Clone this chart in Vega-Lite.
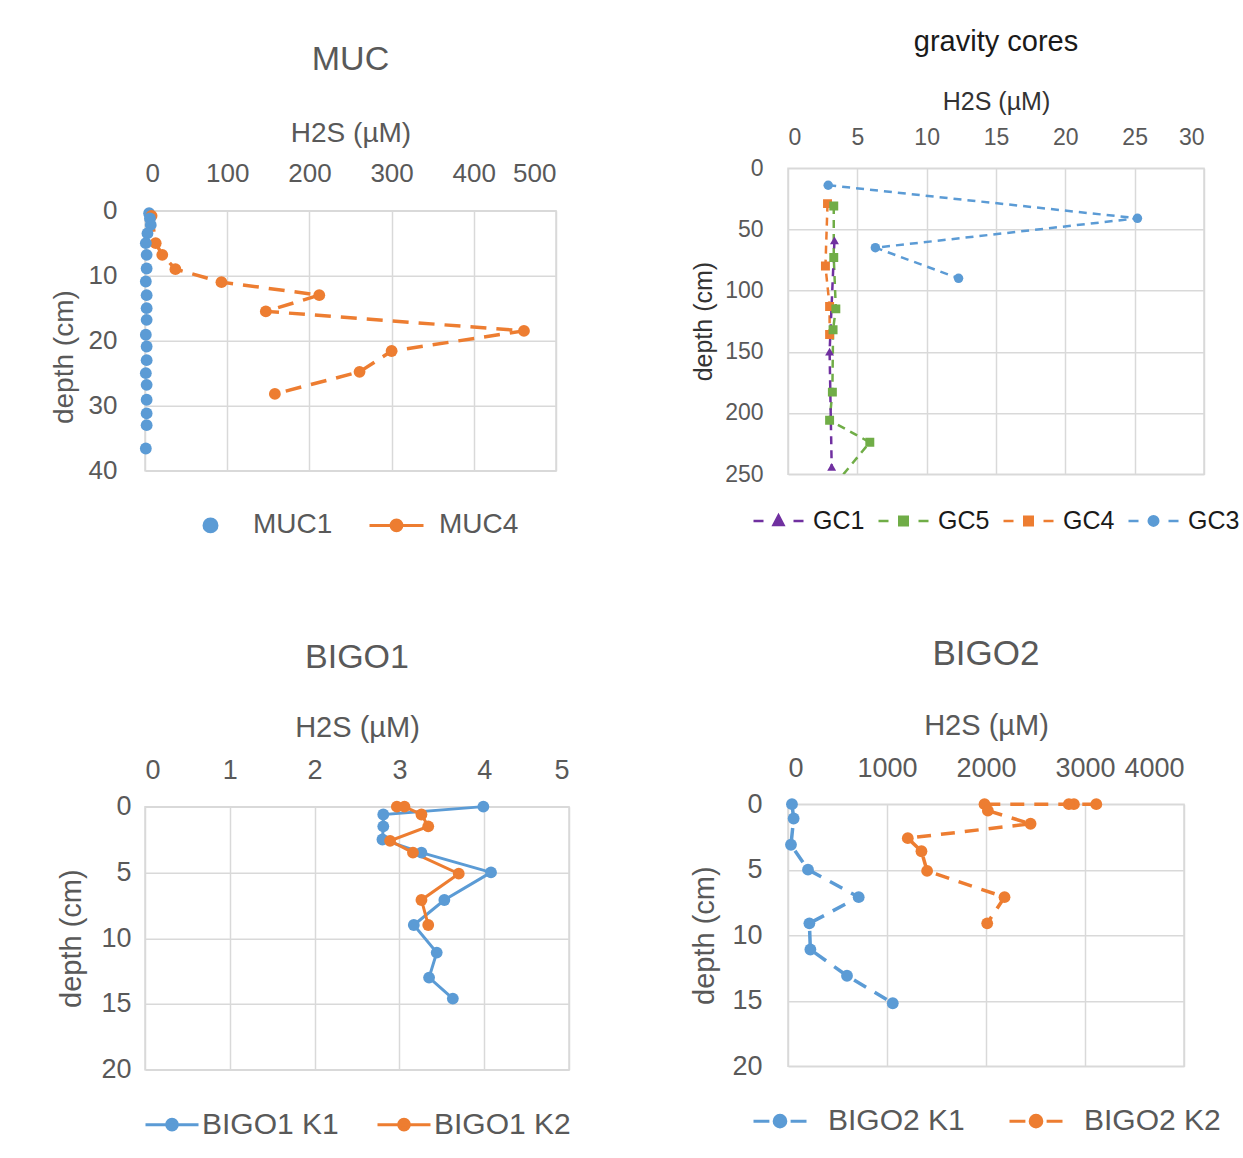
{
  "$schema": "https://vega.github.io/schema/vega-lite/v6.json",
  "background": "white",
  "padding": {"left": 49, "top": 27, "right": 5, "bottom": 5},
  "datasets": {
    "pts": [
      {"panel": "MUC", "series": "MUC1", "h2s": 5, "depth": 0.4, "seq": 1},
      {"panel": "MUC", "series": "MUC1", "h2s": 6, "depth": 1.2, "seq": 2},
      {"panel": "MUC", "series": "MUC1", "h2s": 7, "depth": 2.2, "seq": 3},
      {"panel": "MUC", "series": "MUC1", "h2s": 3, "depth": 3.5, "seq": 4},
      {"panel": "MUC", "series": "MUC1", "h2s": 1, "depth": 5.0, "seq": 5},
      {"panel": "MUC", "series": "MUC1", "h2s": 2, "depth": 6.8, "seq": 6},
      {"panel": "MUC", "series": "MUC1", "h2s": 2, "depth": 8.9, "seq": 7},
      {"panel": "MUC", "series": "MUC1", "h2s": 1, "depth": 10.9, "seq": 8},
      {"panel": "MUC", "series": "MUC1", "h2s": 2, "depth": 13.0, "seq": 9},
      {"panel": "MUC", "series": "MUC1", "h2s": 2, "depth": 15.0, "seq": 10},
      {"panel": "MUC", "series": "MUC1", "h2s": 2, "depth": 16.8, "seq": 11},
      {"panel": "MUC", "series": "MUC1", "h2s": 1, "depth": 19.1, "seq": 12},
      {"panel": "MUC", "series": "MUC1", "h2s": 2, "depth": 20.9, "seq": 13},
      {"panel": "MUC", "series": "MUC1", "h2s": 2, "depth": 23.0, "seq": 14},
      {"panel": "MUC", "series": "MUC1", "h2s": 1, "depth": 25.0, "seq": 15},
      {"panel": "MUC", "series": "MUC1", "h2s": 2, "depth": 26.8, "seq": 16},
      {"panel": "MUC", "series": "MUC1", "h2s": 2, "depth": 29.1, "seq": 17},
      {"panel": "MUC", "series": "MUC1", "h2s": 2, "depth": 31.2, "seq": 18},
      {"panel": "MUC", "series": "MUC1", "h2s": 2, "depth": 33.0, "seq": 19},
      {"panel": "MUC", "series": "MUC1", "h2s": 1, "depth": 36.6, "seq": 20},
      {"panel": "MUC", "series": "MUC4", "h2s": 8, "depth": 0.8, "seq": 1},
      {"panel": "MUC", "series": "MUC4", "h2s": 13, "depth": 5.0, "seq": 2},
      {"panel": "MUC", "series": "MUC4", "h2s": 21, "depth": 6.8, "seq": 3},
      {"panel": "MUC", "series": "MUC4", "h2s": 37, "depth": 9.0, "seq": 4},
      {"panel": "MUC", "series": "MUC4", "h2s": 93, "depth": 11.0, "seq": 5},
      {"panel": "MUC", "series": "MUC4", "h2s": 212, "depth": 13.0, "seq": 6},
      {"panel": "MUC", "series": "MUC4", "h2s": 147, "depth": 15.5, "seq": 7},
      {"panel": "MUC", "series": "MUC4", "h2s": 461, "depth": 18.5, "seq": 8},
      {"panel": "MUC", "series": "MUC4", "h2s": 300, "depth": 21.6, "seq": 9},
      {"panel": "MUC", "series": "MUC4", "h2s": 261, "depth": 24.8, "seq": 10},
      {"panel": "MUC", "series": "MUC4", "h2s": 158, "depth": 28.2, "seq": 11},

      {"panel": "GC", "series": "GC3", "h2s": 2.9, "depth": 14, "seq": 1},
      {"panel": "GC", "series": "GC3", "h2s": 25.2, "depth": 41, "seq": 2},
      {"panel": "GC", "series": "GC3", "h2s": 6.3, "depth": 65, "seq": 3},
      {"panel": "GC", "series": "GC3", "h2s": 12.3, "depth": 90, "seq": 4},
      {"panel": "GC", "series": "GC4", "h2s": 2.85, "depth": 29, "seq": 1},
      {"panel": "GC", "series": "GC4", "h2s": 2.7, "depth": 80, "seq": 2},
      {"panel": "GC", "series": "GC4", "h2s": 3.0, "depth": 113, "seq": 3},
      {"panel": "GC", "series": "GC4", "h2s": 3.0, "depth": 136, "seq": 4},
      {"panel": "GC", "series": "GC5", "h2s": 3.3, "depth": 31, "seq": 1},
      {"panel": "GC", "series": "GC5", "h2s": 3.3, "depth": 73, "seq": 2},
      {"panel": "GC", "series": "GC5", "h2s": 3.45, "depth": 115, "seq": 3},
      {"panel": "GC", "series": "GC5", "h2s": 3.25, "depth": 132, "seq": 4},
      {"panel": "GC", "series": "GC5", "h2s": 3.2, "depth": 183, "seq": 5},
      {"panel": "GC", "series": "GC5", "h2s": 3.0, "depth": 206, "seq": 6},
      {"panel": "GC", "series": "GC5", "h2s": 5.9, "depth": 224, "seq": 7},
      {"panel": "GC", "series": "GC5", "h2s": 3.2, "depth": 261, "seq": 8},
      {"panel": "GC", "series": "GC1", "h2s": 3.35, "depth": 59, "seq": 1},
      {"panel": "GC", "series": "GC1", "h2s": 3.0, "depth": 150, "seq": 2},
      {"panel": "GC", "series": "GC1", "h2s": 3.15, "depth": 244, "seq": 3},

      {"panel": "BIGO1", "series": "BIGO1 K1", "h2s": 3.99, "depth": 0, "seq": 1},
      {"panel": "BIGO1", "series": "BIGO1 K1", "h2s": 2.81, "depth": 0.6, "seq": 2},
      {"panel": "BIGO1", "series": "BIGO1 K1", "h2s": 2.81, "depth": 1.5, "seq": 3},
      {"panel": "BIGO1", "series": "BIGO1 K1", "h2s": 2.8, "depth": 2.5, "seq": 4},
      {"panel": "BIGO1", "series": "BIGO1 K1", "h2s": 3.26, "depth": 3.5, "seq": 5},
      {"panel": "BIGO1", "series": "BIGO1 K1", "h2s": 4.08, "depth": 5.0, "seq": 6},
      {"panel": "BIGO1", "series": "BIGO1 K1", "h2s": 3.53, "depth": 7.1, "seq": 7},
      {"panel": "BIGO1", "series": "BIGO1 K1", "h2s": 3.17, "depth": 9.0, "seq": 8},
      {"panel": "BIGO1", "series": "BIGO1 K1", "h2s": 3.44, "depth": 11.1, "seq": 9},
      {"panel": "BIGO1", "series": "BIGO1 K1", "h2s": 3.35, "depth": 13.0, "seq": 10},
      {"panel": "BIGO1", "series": "BIGO1 K1", "h2s": 3.63, "depth": 14.6, "seq": 11},
      {"panel": "BIGO1", "series": "BIGO1 K2", "h2s": 2.97, "depth": 0, "seq": 1},
      {"panel": "BIGO1", "series": "BIGO1 K2", "h2s": 3.06, "depth": 0, "seq": 2},
      {"panel": "BIGO1", "series": "BIGO1 K2", "h2s": 3.26, "depth": 0.6, "seq": 3},
      {"panel": "BIGO1", "series": "BIGO1 K2", "h2s": 3.34, "depth": 1.5, "seq": 4},
      {"panel": "BIGO1", "series": "BIGO1 K2", "h2s": 2.89, "depth": 2.6, "seq": 5},
      {"panel": "BIGO1", "series": "BIGO1 K2", "h2s": 3.16, "depth": 3.5, "seq": 6},
      {"panel": "BIGO1", "series": "BIGO1 K2", "h2s": 3.7, "depth": 5.1, "seq": 7},
      {"panel": "BIGO1", "series": "BIGO1 K2", "h2s": 3.26, "depth": 7.1, "seq": 8},
      {"panel": "BIGO1", "series": "BIGO1 K2", "h2s": 3.34, "depth": 9.0, "seq": 9},

      {"panel": "BIGO2", "series": "BIGO2 K1", "h2s": 40, "depth": 0, "seq": 1},
      {"panel": "BIGO2", "series": "BIGO2 K1", "h2s": 57, "depth": 1.1, "seq": 2},
      {"panel": "BIGO2", "series": "BIGO2 K1", "h2s": 30, "depth": 3.1, "seq": 3},
      {"panel": "BIGO2", "series": "BIGO2 K1", "h2s": 202, "depth": 5.0, "seq": 4},
      {"panel": "BIGO2", "series": "BIGO2 K1", "h2s": 714, "depth": 7.1, "seq": 5},
      {"panel": "BIGO2", "series": "BIGO2 K1", "h2s": 216, "depth": 9.1, "seq": 6},
      {"panel": "BIGO2", "series": "BIGO2 K1", "h2s": 226, "depth": 11.1, "seq": 7},
      {"panel": "BIGO2", "series": "BIGO2 K1", "h2s": 596, "depth": 13.1, "seq": 8},
      {"panel": "BIGO2", "series": "BIGO2 K1", "h2s": 1058, "depth": 15.2, "seq": 9},
      {"panel": "BIGO2", "series": "BIGO2 K2", "h2s": 3114, "depth": 0, "seq": 1},
      {"panel": "BIGO2", "series": "BIGO2 K2", "h2s": 2888, "depth": 0, "seq": 2},
      {"panel": "BIGO2", "series": "BIGO2 K2", "h2s": 2837, "depth": 0, "seq": 3},
      {"panel": "BIGO2", "series": "BIGO2 K2", "h2s": 1985, "depth": 0, "seq": 4},
      {"panel": "BIGO2", "series": "BIGO2 K2", "h2s": 2019, "depth": 0.5, "seq": 5},
      {"panel": "BIGO2", "series": "BIGO2 K2", "h2s": 2450, "depth": 1.5, "seq": 6},
      {"panel": "BIGO2", "series": "BIGO2 K2", "h2s": 1210, "depth": 2.6, "seq": 7},
      {"panel": "BIGO2", "series": "BIGO2 K2", "h2s": 1348, "depth": 3.6, "seq": 8},
      {"panel": "BIGO2", "series": "BIGO2 K2", "h2s": 1405, "depth": 5.1, "seq": 9},
      {"panel": "BIGO2", "series": "BIGO2 K2", "h2s": 2187, "depth": 7.1, "seq": 10},
      {"panel": "BIGO2", "series": "BIGO2 K2", "h2s": 2012, "depth": 9.1, "seq": 11}
    ]
  },
  "data": {"name": "pts"},
  "spacing": 118,
  "center": {"row": true},
  "resolve": {
    "scale": {"x": "independent", "y": "independent", "color": "independent"},
    "legend": {"color": "independent"}
  },
  "hconcat": [
    {
      "spacing": 99,
      "resolve": {
        "scale": {"x": "independent", "y": "independent", "color": "independent"},
        "legend": {"color": "independent"}
      },
      "vconcat": [
        {
          "width": 411, "height": 260,
          "title": {"text": "MUC", "fontSize": 34, "offset": 43},
          "transform": [{"filter": {"field": "panel", "equal": "MUC"}}],
          "encoding": {
            "x": {"field": "h2s", "type": "quantitative", "scale": {"domain": [0, 500], "nice": false},
                  "axis": {"orient": "top", "title": "H2S (µM)", "values": [0, 100, 200, 300, 400, 500], "labelFontSize": 26, "titleFontSize": 28, "labelPadding": 24, "titlePadding": 13}},
            "y": {"field": "depth", "type": "quantitative", "scale": {"domain": [0, 40], "reverse": true, "nice": false},
                  "axis": {"title": "depth (cm)", "values": [0, 10, 20, 30, 40], "labelFontSize": 26, "titleFontSize": 28, "labelPadding": 28, "titlePadding": 10, "titleY": 146}},
            "color": {"field": "series", "type": "nominal", "scale": {"domain": ["MUC1", "MUC4"], "range": ["#5B9BD5", "#ED7D31"]},
              "legend": {"title": null, "orient": "bottom", "direction": "horizontal", "labelFontSize": 28, "labelColor": "#595959", "symbolSize": 2916, "symbolStrokeWidth": 3, "labelOffset": 14, "columnPadding": 30, "offset": 26,
                "encode": {"symbols": {"update": {
                  "shape": {"signal": "datum.value === 'MUC1' ? 'M0.24,0A0.24,0.24,0,1,1,-0.24,0A0.24,0.24,0,1,1,0.24,0Z' : 'M-1,0H-0.2M0.2,0H1M0.2,0A0.2,0.2,0,1,1,-0.2,0A0.2,0.2,0,1,1,0.2,0Z'"},
                  "fill": {"signal": "datum.value === 'MUC1' ? '#5B9BD5' : '#ED7D31'"},
                  "stroke": {"signal": "datum.value === 'MUC1' ? '#5B9BD5' : '#ED7D31'"},
                  "strokeDash": {"value": []}, "opacity": {"value": 1}}}}}},
            "order": {"field": "seq", "type": "quantitative"}
          },
          "layer": [
            {"transform": [{"filter": {"field": "series", "equal": "MUC4"}}], "mark": {"type": "line", "strokeDash": [16, 10], "strokeWidth": 3.5}},
            {"mark": {"type": "point", "filled": true, "size": 140, "opacity": 1}}
          ]
        },
        {
          "width": 424, "height": 263,
          "title": {"text": "BIGO1", "fontSize": 34, "offset": 39},
          "transform": [{"filter": {"field": "panel", "equal": "BIGO1"}}],
          "encoding": {
            "x": {"field": "h2s", "type": "quantitative", "scale": {"domain": [0, 5], "nice": false},
                  "axis": {"orient": "top", "title": "H2S (µM)", "values": [0, 1, 2, 3, 4, 5], "labelFontSize": 27, "titleFontSize": 29, "labelPadding": 22, "titlePadding": 14}},
            "y": {"field": "depth", "type": "quantitative", "scale": {"domain": [0, 20], "reverse": true, "nice": false},
                  "axis": {"title": "depth (cm)", "values": [0, 5, 10, 15, 20], "labelFontSize": 27, "titleFontSize": 29, "labelPadding": 14, "titlePadding": 14}},
            "color": {"field": "series", "type": "nominal", "scale": {"domain": ["BIGO1 K1", "BIGO1 K2"], "range": ["#5B9BD5", "#ED7D31"]},
              "legend": {"title": null, "orient": "bottom", "direction": "horizontal", "labelFontSize": 30, "labelColor": "#595959", "symbolSize": 2809, "symbolStrokeWidth": 3, "labelOffset": 2, "columnPadding": 32, "offset": 27,
                "encode": {"symbols": {"update": {
                  "shape": {"value": "M-1,0H1M0.2,0A0.2,0.2,0,1,1,-0.2,0A0.2,0.2,0,1,1,0.2,0Z"},
                  "fill": {"signal": "datum.value === 'BIGO1 K1' ? '#5B9BD5' : '#ED7D31'"},
                  "stroke": {"signal": "datum.value === 'BIGO1 K1' ? '#5B9BD5' : '#ED7D31'"},
                  "strokeDash": {"value": []}, "opacity": {"value": 1}}}}}},
            "order": {"field": "seq", "type": "quantitative"}
          },
          "layer": [
            {"mark": {"type": "line", "strokeWidth": 3}},
            {"mark": {"type": "point", "filled": true, "size": 140, "opacity": 1}}
          ]
        }
      ]
    },
    {
      "spacing": 101,
      "resolve": {
        "scale": {"x": "independent", "y": "independent", "color": "independent"},
        "legend": {"color": "independent"}
      },
      "vconcat": [
        {
          "width": 416, "height": 306,
          "title": {"text": "gravity cores", "fontSize": 29, "offset": 32, "color": "#1a1a1a"},
          "transform": [{"filter": {"field": "panel", "equal": "GC"}}],
          "encoding": {
            "x": {"field": "h2s", "type": "quantitative", "scale": {"domain": [0, 30], "nice": false},
                  "axis": {"orient": "top", "title": "H2S (µM)", "values": [0, 5, 10, 15, 20, 25, 30], "labelFontSize": 23, "titleFontSize": 25, "titleColor": "#333333", "labelPadding": 19, "titlePadding": 12}},
            "y": {"field": "depth", "type": "quantitative", "scale": {"domain": [0, 250], "reverse": true, "nice": false},
                  "axis": {"title": "depth (cm)", "values": [0, 50, 100, 150, 200, 250], "labelFontSize": 23, "titleFontSize": 25, "titleColor": "#333333", "labelPadding": 25, "titlePadding": 8}},
            "color": {"field": "series", "type": "nominal", "scale": {"domain": ["GC1", "GC5", "GC4", "GC3"], "range": ["#7030A0", "#70AD47", "#ED7D31", "#5B9BD5"]},
              "legend": {"title": null, "orient": "bottom", "direction": "horizontal", "labelFontSize": 25, "labelColor": "#1a1a1a", "symbolSize": 2500, "symbolStrokeWidth": 2.5, "labelOffset": 8, "columnPadding": 8, "offset": 20,
                "encode": {"symbols": {"update": {
                  "shape": {"signal": "datum.value === 'GC1' ? 'M-1,0H-0.6M0.6,0H1M0,-0.22L0.2,0.16L-0.2,0.16Z' : datum.value === 'GC3' ? 'M-1,0H-0.6M0.6,0H1M0.19,0A0.19,0.19,0,1,1,-0.19,0A0.19,0.19,0,1,1,0.19,0Z' : 'M-1,0H-0.6M0.6,0H1M-0.17,-0.17H0.17V0.17H-0.17Z'"},
                  "fill": {"signal": "datum.value === 'GC1' ? '#7030A0' : datum.value === 'GC5' ? '#70AD47' : datum.value === 'GC4' ? '#ED7D31' : '#5B9BD5'"},
                  "stroke": {"signal": "datum.value === 'GC1' ? '#7030A0' : datum.value === 'GC5' ? '#70AD47' : datum.value === 'GC4' ? '#ED7D31' : '#5B9BD5'"},
                  "strokeDash": {"value": []}, "opacity": {"value": 1}}}}}},
            "order": {"field": "seq", "type": "quantitative"}
          },
          "layer": [
            {"mark": {"type": "line", "strokeDash": [8, 6], "strokeWidth": 2.5, "clip": true}},
            {"transform": [{"filter": {"field": "series", "equal": "GC1"}}], "mark": {"type": "point", "shape": "triangle-up", "filled": true, "size": 80, "opacity": 1, "clip": true}},
            {"transform": [{"filter": {"field": "series", "oneOf": ["GC5", "GC4"]}}], "mark": {"type": "point", "shape": "square", "filled": true, "size": 80, "opacity": 1, "clip": true}},
            {"transform": [{"filter": {"field": "series", "equal": "GC3"}}], "mark": {"type": "point", "shape": "circle", "filled": true, "size": 90, "opacity": 1, "clip": true}}
          ]
        },
        {
          "width": 396, "height": 262,
          "title": {"text": "BIGO2", "fontSize": 35, "offset": 39},
          "transform": [{"filter": {"field": "panel", "equal": "BIGO2"}}],
          "encoding": {
            "x": {"field": "h2s", "type": "quantitative", "scale": {"domain": [0, 4000], "nice": false},
                  "axis": {"orient": "top", "title": "H2S (µM)", "format": "d", "values": [0, 1000, 2000, 3000, 4000], "labelFontSize": 27, "titleFontSize": 29, "labelPadding": 22, "titlePadding": 14}},
            "y": {"field": "depth", "type": "quantitative", "scale": {"domain": [0, 20], "reverse": true, "nice": false},
                  "axis": {"title": "depth (cm)", "values": [0, 5, 10, 15, 20], "labelFontSize": 27, "titleFontSize": 29, "labelPadding": 26, "titlePadding": 12}},
            "color": {"field": "series", "type": "nominal", "scale": {"domain": ["BIGO2 K1", "BIGO2 K2"], "range": ["#5B9BD5", "#ED7D31"]},
              "legend": {"title": null, "orient": "bottom", "direction": "horizontal", "labelFontSize": 30, "labelColor": "#595959", "symbolSize": 2809, "symbolStrokeWidth": 3, "labelOffset": 20, "columnPadding": 38, "offset": -19, "padding": 46,
                "encode": {"symbols": {"update": {
                  "shape": {"value": "M-1,0H-0.4M0.4,0H1M0.22,0A0.22,0.22,0,1,1,-0.22,0A0.22,0.22,0,1,1,0.22,0Z"},
                  "fill": {"signal": "datum.value === 'BIGO2 K1' ? '#5B9BD5' : '#ED7D31'"},
                  "stroke": {"signal": "datum.value === 'BIGO2 K1' ? '#5B9BD5' : '#ED7D31'"},
                  "strokeDash": {"value": []}, "opacity": {"value": 1}}}}}},
            "order": {"field": "seq", "type": "quantitative"}
          },
          "layer": [
            {"mark": {"type": "line", "strokeDash": [14, 10], "strokeWidth": 3.5}},
            {"mark": {"type": "point", "filled": true, "size": 140, "opacity": 1}}
          ]
        }
      ]
    }
  ],
  "config": {
    "font": "Liberation Sans",
    "view": {"stroke": "#d9d9d9", "strokeWidth": 1.5},
    "axis": {"grid": true, "gridColor": "#d9d9d9", "gridWidth": 1.5, "domain": false, "ticks": false, "tickSize": 0, "labelColor": "#595959", "titleColor": "#595959", "titleFontWeight": "normal", "labelFont": "Liberation Sans", "titleFont": "Liberation Sans"},
    "title": {"color": "#595959", "fontWeight": "normal", "anchor": "middle", "font": "Liberation Sans"},
    "legend": {"labelFont": "Liberation Sans", "layout": {"bottom": {"anchor": "middle"}}}
  }
}
